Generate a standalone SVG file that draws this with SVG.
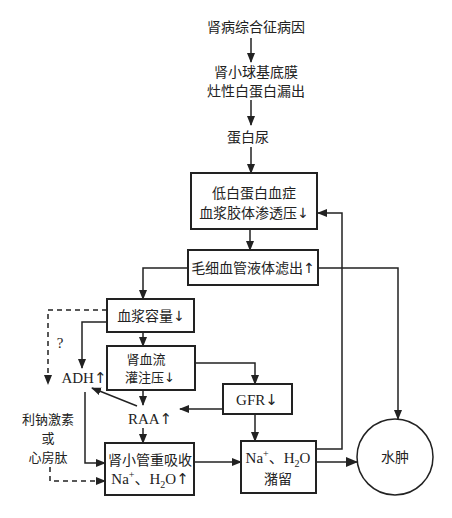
<svg xmlns="http://www.w3.org/2000/svg" width="452" height="518" viewBox="0 0 452 518">
<defs>
<marker id="ah" markerWidth="10" markerHeight="8" refX="9" refY="4" orient="auto" markerUnits="userSpaceOnUse"><path d="M0,0 L10,4 L0,8 z" fill="#222"/></marker>
<marker id="ahb" markerWidth="12" markerHeight="10" refX="11" refY="5" orient="auto" markerUnits="userSpaceOnUse"><path d="M0,0 L12,5 L0,10 z" fill="#222"/></marker>
</defs>
<style>
.t{font-family:"Noto Sans CJK SC",sans-serif;font-size:14px;fill:#222;text-anchor:middle}
.s{font-size:13px}
.l{font-family:"Liberation Serif","Noto Sans CJK SC",serif;font-size:15px;fill:#222;text-anchor:middle}
.a{font-family:"DejaVu Sans",sans-serif;fill:#222}
.box{fill:#fff;stroke:#222;stroke-width:2}
.c{fill:none;stroke:#222;stroke-width:1.5}
.d{stroke-dasharray:5,4}
</style>
<rect width="452" height="518" fill="#fff"/>
<g id="connectors">
<path class="c" d="M251,38 V62" marker-end="url(#ah)"/>
<path class="c" d="M251,100 V125" marker-end="url(#ah)"/>
<path class="c" d="M251,147 V173" marker-end="url(#ah)"/>
<path class="c" d="M250,229 V250" marker-end="url(#ah)"/>
<path class="c" d="M188,268 H143 V299" marker-end="url(#ah)"/>
<path class="c" d="M318,268 H398 V419" marker-end="url(#ah)"/>
<path class="c" d="M316,449 H342 V213 H318" marker-end="url(#ah)"/>
<path class="c" d="M143,332 V346" marker-end="url(#ah)"/>
<path class="c" d="M107,322 H82 V368" marker-end="url(#ah)"/>
<path class="c d" d="M107,310 H48 V384" marker-end="url(#ah)"/>
<path class="c" d="M195,363 H255 V384" marker-end="url(#ah)"/>
<path class="c" d="M143,390 V405" marker-end="url(#ah)"/>
<path class="c" d="M223,409 H180" marker-end="url(#ah)"/>
<path class="c" d="M137,406 L92,388" marker-end="url(#ah)"/>
<path class="c" d="M143,428 V443" marker-end="url(#ah)"/>
<path class="c" d="M85,392 V463 H105" marker-end="url(#ah)"/>
<path class="c d" d="M50,467 V481 H105" marker-end="url(#ah)"/>
<path class="c" d="M194,462 H241" marker-end="url(#ah)"/>
<path class="c" d="M255,414 V441" marker-end="url(#ah)"/>
<path class="c" d="M316,462 H357" stroke-width="3.5" marker-end="url(#ahb)"/>
</g>
<g id="n_cause"><text class="t" x="256" y="32">肾病综合征病因</text></g>
<g id="n_gbm"><text class="t" x="256" y="77">肾小球基底膜</text><text class="t" x="256" y="96">灶性白蛋白漏出</text></g>
<g id="n_proteinuria"><text class="t" x="248" y="142">蛋白尿</text></g>
<g id="n_hypoalb"><rect class="box" x="191" y="173" width="126" height="56"/><text class="t" x="254" y="198">低白蛋白血症</text><text class="t" x="254" y="218">血浆胶体渗透压<tspan class="a">↓</tspan></text></g>
<g id="n_capillary"><rect class="box" x="188" y="250" width="130" height="35"/><text class="t" x="253" y="273">毛细血管液体滤出<tspan class="a">↑</tspan></text></g>
<g id="n_plasma"><rect class="box" x="107" y="299" width="87" height="33"/><text class="t" x="151" y="321">血浆容量<tspan class="a">↓</tspan></text></g>
<g id="n_renal"><rect class="box" x="107" y="346" width="88" height="44"/><text class="t s" x="146" y="364">肾血流</text><text class="t s" x="150" y="382">灌注压<tspan class="a">↓</tspan></text></g>
<g id="n_adh"><text class="l" x="84" y="383">ADH<tspan class="a">↑</tspan></text></g>
<g id="n_q"><text class="l" x="60" y="348">?</text></g>
<g id="n_raa"><text class="l" x="150" y="424">RAA<tspan class="a">↑</tspan></text></g>
<g id="n_gfr"><rect class="box" x="223" y="384" width="69" height="30"/><text class="l" x="257" y="405">GFR<tspan class="a">↓</tspan></text></g>
<g id="n_anp"><text class="t s" x="48" y="424">利钠激素</text><text class="t s" x="48" y="443">或</text><text class="t s" x="48" y="462">心房肽</text></g>
<g id="n_tubule"><rect class="box" x="105" y="443" width="89" height="52"/><text class="t" x="150" y="465">肾小管重吸收</text><text class="l" x="150" y="484">Na<tspan font-size="10" dy="-6">+</tspan><tspan dy="6">、H</tspan><tspan font-size="10" dy="4">2</tspan><tspan dy="-4">O</tspan><tspan class="a">↑</tspan></text></g>
<g id="n_retention"><rect class="box" x="241" y="441" width="75" height="52"/><text class="l" x="278" y="463">Na<tspan font-size="10" dy="-6">+</tspan><tspan dy="6">、H</tspan><tspan font-size="10" dy="4">2</tspan><tspan dy="-4">O</tspan></text><text class="t" x="278" y="484">潴留</text></g>
<g id="n_edema"><circle cx="395" cy="457" r="38" fill="#fff" stroke="#222" stroke-width="1.5"/><text class="t" x="395" y="462">水肿</text></g>
</svg>
